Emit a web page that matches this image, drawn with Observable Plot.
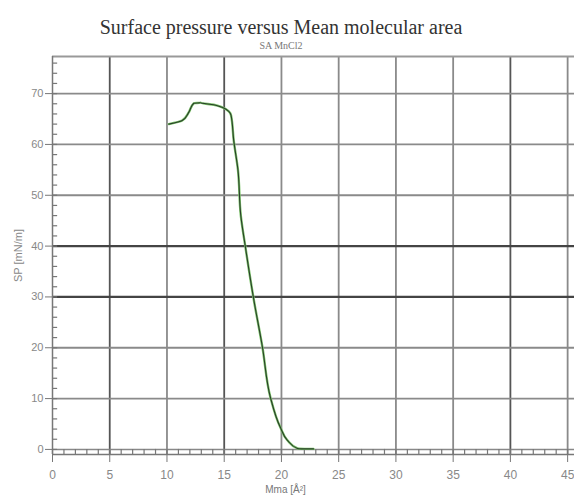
<!DOCTYPE html>
<html>
<head>
<meta charset="utf-8">
<script src="https://cdn.jsdelivr.net/npm/d3@7"></script>
<script src="https://cdn.jsdelivr.net/npm/@observablehq/plot@0.6"></script>
<style>
  html, body { margin: 0; padding: 0; background: #fff; }
  #wrap { position: relative; width: 574px; height: 497px; overflow: hidden; }
  #title { position: absolute; left: 0; width: 562px; top: 16px; text-align: center;
           font-family: "Liberation Serif", "DejaVu Serif", serif; font-size: 20px; color: #333; }
  #subtitle { position: absolute; left: 0; width: 562px; top: 40px; text-align: center;
           font-family: "Liberation Serif", "DejaVu Serif", serif; font-size: 10px; color: #777; }
  #chart { position: absolute; left: 0; top: 50px; }
</style>
</head>
<body>
<div id="wrap">
  <div id="title">Surface pressure versus Mean molecular area</div>
  <div id="subtitle">SA MnCl2</div>
  <div id="chart"></div>
</div>
<script>
// Data
const area = [10.16, 11.33, 11.9, 12.34, 12.93, 14.09, 14.82, 15.4, 15.6, 15.83, 16.2, 16.45, 16.86, 17.55, 18.34, 19.04, 19.91, 20.52, 21.4, 22.0, 22.8];
const pressure = [64.0, 64.7, 66.3, 68.1, 68.2, 67.8, 67.3, 66.5, 65.7, 60.8, 55.0, 46.0, 39.7, 29.9, 20.1, 10.2, 4.3, 1.8, 0.2, 0.1, 0.1];
const xTicks = [0, 5, 10, 15, 20, 25, 30, 35, 40, 45];
const yTicks = [0, 10, 20, 30, 40, 50, 60, 70];
const xMinor = d3.range(0, 46, 1);
const yMinor = d3.range(0, 77, 2);

const data = area.map((a, i) => ({area: a, sp: pressure[i]}));

const darkY = new Set([30, 40]);
const darkX = new Set([5, 15, 40]);

const chart = Plot.plot({
  width: 574,
  height: 447,
  marginTop: 6,
  marginLeft: 52,
  marginRight: 0,
  marginBottom: 43,
  x: {domain: [0, 45.6]},
  y: {domain: [-1, 77.3]},
  style: {fontFamily: "'Liberation Sans', Arial, sans-serif", fontSize: "11px", color: "#666", background: "#fff"},
  marks: [
    Plot.ruleX(xTicks.filter(d => d > 0), {stroke: d => darkX.has(d) ? "#555" : "#8a8a8a", strokeWidth: 1.8}),
    Plot.ruleY(yTicks.filter(d => d > 0), {stroke: d => darkY.has(d) ? "#444" : "#8a8a8a", strokeWidth: d => darkY.has(d) ? 2.2 : 1.8}),
    Plot.ruleY([0], {stroke: "#888", strokeWidth: 1.5}),
    Plot.ruleY([-1], {stroke: "#777", strokeWidth: 1.5}),
    Plot.ruleY([77.3], {stroke: "#999", strokeWidth: 2}),
    Plot.ruleX([0], {stroke: "#777", strokeWidth: 1.5}),
    Plot.ruleX(xMinor, {y1: -1, y2: 0, stroke: "#777", strokeWidth: 1.2}),
    Plot.ruleY(yMinor, {x1: 0, x2: 0.45, stroke: "#777", strokeWidth: 1.2}),
    Plot.axisX({ticks: xTicks, tickSize: 8, tickPadding: 8, stroke: "#777", label: null, fill: "#888", fontSize: 12}),
    Plot.axisY({ticks: yTicks, tickSize: 7, tickPadding: 2, stroke: "#777", label: "SP [mN/m]", labelAnchor: "center", labelArrow: "none", labelOffset: 38, fill: "#888", fontSize: 11}),
    Plot.text(["Mma [Å²]"], {frameAnchor: "bottom", dy: 38, dx: -28, fill: "#777", fontSize: 10}),
    Plot.line(data, {x: "area", y: "sp", stroke: "#7cc46a", strokeWidth: 2.4, curve: "monotone-y"}),
    Plot.line(data, {x: "area", y: "sp", stroke: "#2a3f2a", strokeWidth: 1.1, curve: "monotone-y"})
  ]
});
document.getElementById("chart").appendChild(chart);
</script>
</body>
</html>
